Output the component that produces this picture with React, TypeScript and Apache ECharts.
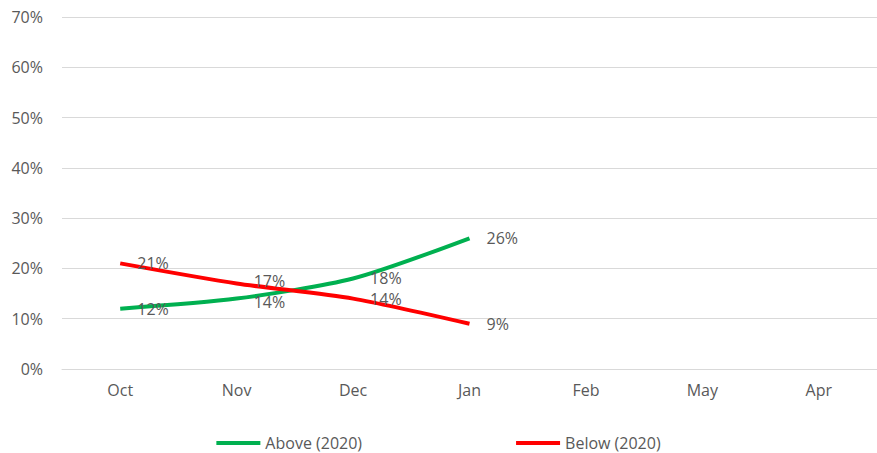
import React, { useEffect, useRef } from "react";
import * as echarts from "echarts";

const categories = ["Oct", "Nov", "Dec", "Jan", "Feb", "May", "Apr"];
const aboveValues = [12, 14, 18, 26, null, null, null];
const belowValues = [21, 17, 14, 9, null, null, null];
const seriesNames = ["Above (2020)", "Below (2020)"];
const yTicks = { min: 0, max: 70, interval: 10 };

export default function App() {
  const ref = useRef<HTMLDivElement>(null);
  useEffect(() => {
    if (!ref.current) return;
    const chart = echarts.init(ref.current, null, { renderer: "svg" });
    const font = "'Open Sans', 'Noto Sans', sans-serif";
    const label = {
      show: true,
      position: "right",
      distance: 17,
      formatter: (p: any) => p.value + "%",
      color: "#595959",
      fontSize: 16,
      lineHeight: 14,
      fontFamily: font,
    };
    // small vertical nudges to keep the crossing labels at Nov apart
    const withNudge = (vals: (number | null)[], idx: number, dy: number) =>
      vals.map((v, i) =>
        i === idx ? { value: v, label: { offset: [0, dy] } } : v
      );
    chart.setOption({
      animation: false,
      backgroundColor: "#ffffff",
      grid: { left: 62, right: 0, top: 17, bottom: 84 },
      legend: {
        top: 430,
        left: "center",
        itemWidth: 44,
        itemHeight: 4,
        itemGap: 154,
        icon: "rect",
        textStyle: { color: "#595959", fontSize: 16, fontFamily: font },
        data: seriesNames,
      },
      xAxis: {
        type: "category",
        data: categories,
        boundaryGap: true,
        axisLine: { show: true, lineStyle: { color: "#d9d9d9", width: 1 } },
        axisTick: { show: false },
        axisLabel: { color: "#595959", fontSize: 16, fontFamily: font, margin: 13 },
      },
      yAxis: {
        type: "value",
        min: yTicks.min,
        max: yTicks.max,
        interval: yTicks.interval,
        axisLine: { show: false },
        axisTick: { show: false },
        splitLine: { lineStyle: { color: "#d9d9d9", width: 1 } },
        axisLabel: {
          color: "#595959",
          fontSize: 16,
          fontFamily: font,
          margin: 19,
          formatter: (v: number) => v + "%",
        },
      },
      series: [
        {
          name: seriesNames[0],
          type: "line",
          data: withNudge(aboveValues, 1, 3),
          smooth: 0.25,
          symbol: "circle",
          symbolSize: 0.1,
          showSymbol: true,
          lineStyle: { color: "#00B050", width: 4 },
          itemStyle: { color: "#00B050" },
          label,
        },
        {
          name: seriesNames[1],
          type: "line",
          data: withNudge(belowValues, 1, -3),
          smooth: 0.25,
          symbol: "circle",
          symbolSize: 0.1,
          showSymbol: true,
          lineStyle: { color: "#FF0000", width: 4 },
          itemStyle: { color: "#FF0000" },
          label,
        },
      ],
    });
    return () => chart.dispose();
  }, []);
  return (
    <div
      ref={ref}
      style={{ position: "absolute", left: 0, top: 0, width: 877, height: 453 }}
    />
  );
}
